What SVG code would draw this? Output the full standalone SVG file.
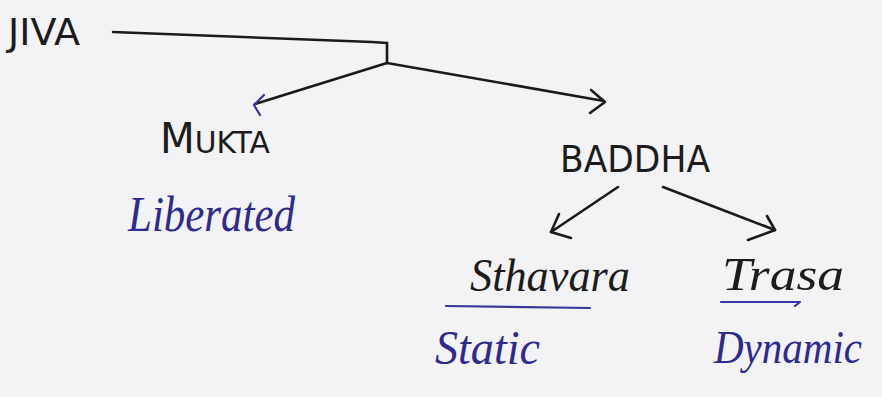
<svg xmlns="http://www.w3.org/2000/svg" width="882" height="397" viewBox="0 0 882 397">
  <style>
    .ink { fill: none; stroke: #1a1a1a; stroke-width: 2.6; stroke-linecap: round; stroke-linejoin: round; }
    .pen { fill: none; stroke: #3a35a0; stroke-width: 2.2; stroke-linecap: round; stroke-linejoin: round; }
    .caps { font-family: "DejaVu Sans", "Liberation Sans", sans-serif; fill: #1c1c1c; font-weight: normal; }
    .script { font-family: "Liberation Serif", serif; font-style: italic; fill: #2f2a8f; }
    .script-dark { font-family: "Liberation Serif", serif; font-style: italic; fill: #1c1c1c; }
  </style>
  <rect width="882" height="397" fill="#f3f3f6"/>

  <!-- connectors -->
  <g id="connectors">
    <path class="ink" d="M113 32 L372 42 L387 43"/>
    <path class="ink" d="M387 43 L387 63"/>
    <path class="ink" d="M387 63 L255 104"/>
    <path class="pen" d="M264 95 L254 105 L260 115"/>
    <path class="ink" d="M387 63 L604 101"/>
    <path class="ink" d="M591 90 L605 102 L590 113"/>
    <path class="ink" d="M618 187 L551 232"/>
    <path class="ink" d="M551 232 L571 238 M551 232 L559 214"/>
    <path class="ink" d="M663 187 L775 230"/>
    <path class="ink" d="M767 216 L775 230 L748 240"/>
    <path class="pen" d="M446 306 L590 308"/>
    <path class="pen" d="M721 302 L800 302 L795 306"/>
  </g>

  <g id="jiva">
    <text class="caps" x="8" y="45" font-size="37" textLength="72" lengthAdjust="spacingAndGlyphs">JIVA</text>
  </g>

  <g id="mukta">
    <text class="caps" x="160" y="153" font-size="31" textLength="110" lengthAdjust="spacingAndGlyphs"><tspan font-size="42">M</tspan>UKTA</text>
    <text class="script" x="128" y="231" font-size="50" textLength="167" lengthAdjust="spacingAndGlyphs">Liberated</text>
  </g>

  <g id="baddha">
    <text class="caps" x="560" y="172" font-size="38" textLength="150" lengthAdjust="spacingAndGlyphs">BADDHA</text>
  </g>

  <g id="sthavara">
    <text class="script-dark" x="470" y="291" font-size="46" textLength="160" lengthAdjust="spacingAndGlyphs">Sthavara</text>
    <text class="script" x="435" y="364" font-size="48" textLength="105" lengthAdjust="spacingAndGlyphs">Static</text>
  </g>

  <g id="trasa">
    <text class="script-dark" x="722" y="290" font-size="46" textLength="122" lengthAdjust="spacingAndGlyphs">Trasa</text>
    <text class="script" x="714" y="363" font-size="46" textLength="148" lengthAdjust="spacingAndGlyphs">Dynamic</text>
  </g>
</svg>
